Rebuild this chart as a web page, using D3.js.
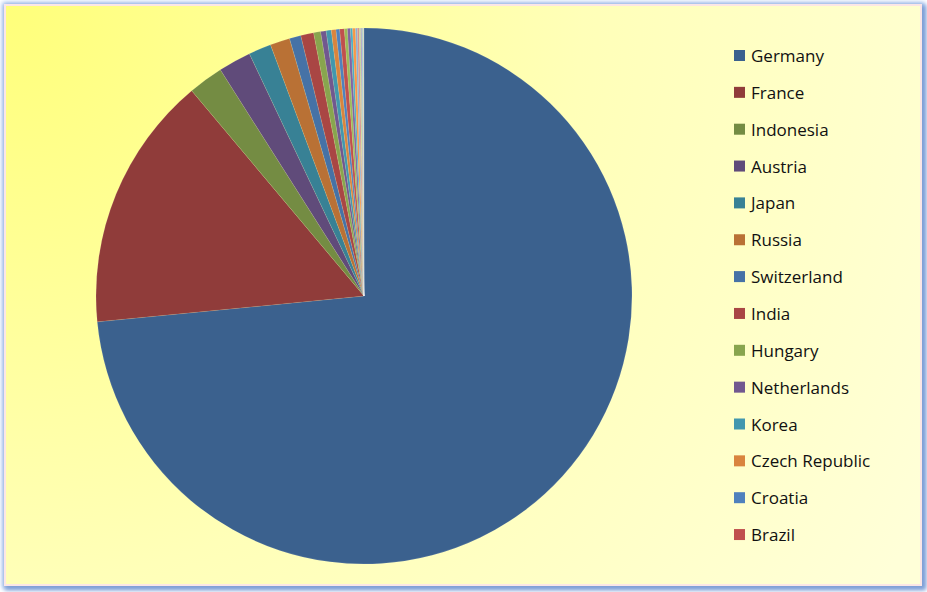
<!DOCTYPE html>
<html><head><meta charset="utf-8">
<script src="https://cdn.jsdelivr.net/npm/d3@7"></script>
<style>html,body{margin:0;padding:0;background:#fff;}svg{display:block;}</style>
</head><body>
<svg id="chart" width="927" height="592"></svg>
<script>
// Data (share in %)
const countries = ["Germany","France","Indonesia","Austria","Japan","Russia","Switzerland","India","Hungary","Netherlands","Korea","Czech Republic","Croatia","Brazil",
  "Italy","Spain","Poland","Sweden","Belgium","China","Slovakia","Finland","Denmark","Norway","Portugal"];
const values = [73.44,15.42,2.11,1.97,1.36,1.19,0.69,0.78,0.42,0.33,0.31,0.28,0.22,0.28,
  0.18,0.18,0.13,0.17,0.12,0.11,0.08,0.07,0.06,0.04,0.03];
const legendCount = 14;

const base = ["#4F81BD","#C0504D","#9BBB59","#8064A2","#4BACC6","#F79646"];
function seriesColor(i){
  const b = d3.rgb(base[i%6]);
  const g = Math.floor(i/6);
  if(g===0) return d3.rgb(b.r*0.75,b.g*0.75,b.b*0.75).formatHex();
  if(g===1) return d3.rgb(b.r*0.88,b.g*0.88,b.b*0.88).formatHex();
  if(g===2) return b.formatHex();
  const t = g===3 ? 0.35 : 0.55;
  return d3.rgb(b.r+(255-b.r)*t,b.g+(255-b.g)*t,b.b+(255-b.b)*t).formatHex();
}

const svg = d3.select("#chart");
const defs = svg.append("defs");
const rg = defs.append("radialGradient").attr("id","bg").attr("gradientUnits","userSpaceOnUse")
  .attr("cx",5).attr("cy",5).attr("r",1050);
rg.append("stop").attr("offset","0").attr("stop-color","#ffff7a");
rg.append("stop").attr("offset","0.55").attr("stop-color","#ffffb8");
rg.append("stop").attr("offset","1").attr("stop-color","#ffffd8");
const f = defs.append("filter").attr("id","glow").attr("x","-5%").attr("y","-5%").attr("width","110%").attr("height","110%");
f.append("feGaussianBlur").attr("stdDeviation",2);

// frame glow
svg.append("rect").attr("x",2).attr("y",2).attr("width",923).attr("height",587)
  .attr("rx",3).attr("fill","#a9c4ee").attr("filter","url(#glow)");
svg.append("rect").attr("x",5).attr("y",5).attr("width",921).attr("height",585)
  .attr("fill","#7f9fd6").attr("filter","url(#glow)");
svg.append("rect").attr("x",5).attr("y",5).attr("width",916).attr("height",580)
  .attr("fill","url(#bg)").attr("stroke","#fbe6e6").attr("stroke-width",2);

// pie
const cx = 364, cy = 296, r = 268;
const pie = d3.pie().sort(null).value(d=>d.v).startAngle(0).endAngle(2*Math.PI);
const arc = d3.arc().innerRadius(0).outerRadius(r);
const data = countries.map((c,i)=>({c, v:values[i], i}));
const g = svg.append("g").attr("transform",`translate(${cx},${cy})`);
g.selectAll("path").data(pie(data)).join("path")
  .attr("d",arc)
  .attr("fill",d=>seriesColor(d.data.i))
  .attr("stroke","rgba(255,255,255,0.25)").attr("stroke-width",0.4);

// legend
const lg = svg.append("g");
const y0 = 56, dy = 36.85;
const items = lg.selectAll("g").data(data.slice(0,legendCount)).join("g")
  .attr("transform",(d,i)=>`translate(734,${y0+i*dy})`);
items.append("rect").attr("x",0).attr("y",-6).attr("width",11).attr("height",11)
  .attr("fill",d=>seriesColor(d.i));
items.append("text").attr("x",17).attr("y",6)
  .attr("font-family","Open Sans, sans-serif").attr("font-size",17).attr("fill","#111")
  .text(d=>d.c);
</script>
</body></html>
